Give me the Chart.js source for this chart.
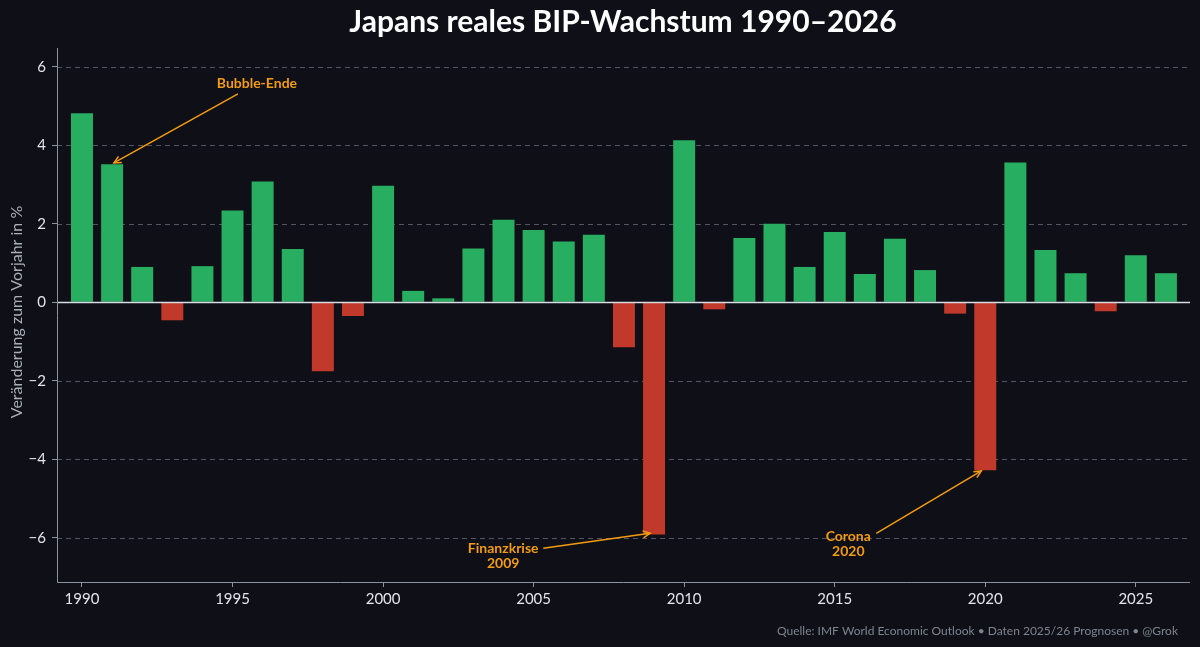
<!DOCTYPE html>
<html><head><meta charset="utf-8">
<script src="https://cdn.jsdelivr.net/npm/chart.js@4"></script>
<style>
html,body{margin:0;padding:0;background:#0e0f17;}
#wrap{width:1200px;height:647px;position:relative;}
</style></head>
<body><div id="wrap"><canvas id="c" width="1200" height="647"></canvas></div>
<script>
const years = [1990,1991,1992,1993,1994,1995,1996,1997,1998,1999,2000,2001,2002,2003,2004,2005,2006,2007,2008,2009,2010,2011,2012,2013,2014,2015,2016,2017,2018,2019,2020,2021,2022,2023,2024,2025,2026];
const growth = [4.82,3.52,0.90,-0.46,0.92,2.34,3.08,1.36,-1.76,-0.35,2.97,0.29,0.10,1.37,2.10,1.84,1.55,1.72,-1.15,-5.92,4.13,-0.18,1.64,2.00,0.90,1.79,0.72,1.62,0.82,-0.29,-4.28,3.56,1.33,0.74,-0.23,1.20,0.74];
const xTicks = [1990,1995,2000,2005,2010,2015,2020,2025];
const yTicks = [-6,-4,-2,0,2,4,6];
const annoLabels = [["Bubble-Ende"],["Finanzkrise","2009"],["Corona","2020"]];
const annoText = [[1995.81,5.57],[2003.99,-6.46],[2015.45,-6.15]];
const annoTail = [[1995.18,5.31],[2005.32,-6.27],[2016.38,-5.89]];
const annoTip = [[1991.06,3.55],[2008.87,-5.89],[2019.87,-4.30]];
const titleText = "Japans reales BIP-Wachstum 1990–2026";
const yTitle = "Veränderung zum Vorjahr in %";
const footer = "Quelle: IMF World Economic Outlook • Daten 2025/26 Prognosen • @Grok";

const FONT = "Lato, 'Source Sans Pro', sans-serif";
const GREEN = "#27ae60", RED = "#c0392b", ORANGE = "#f39c12";

const deco = {
  id:'deco',
  beforeDraw(chart){
    const ctx = chart.ctx;
    ctx.save();
    ctx.fillStyle = '#0e0f17';
    ctx.fillRect(0,0,chart.width,chart.height);
    ctx.restore();
  },
  beforeDatasetsDraw(chart){
    const {ctx, chartArea:a, scales:{x,y}} = chart;
    ctx.save();
    ctx.strokeStyle = 'rgba(140,145,160,0.55)';
    ctx.lineWidth = 1;
    ctx.setLineDash([5,4]);
    yTicks.forEach(v=>{
      if(v===0) return;
      const py = Math.round(y.getPixelForValue(v))+0.5;
      ctx.beginPath(); ctx.moveTo(a.left,py); ctx.lineTo(a.right,py); ctx.stroke();
    });
    ctx.restore();
  },
  afterDatasetsDraw(chart){
    const {ctx, chartArea:a, scales:{x,y}} = chart;
    ctx.save();
    const z = Math.round(y.getPixelForValue(0))+0.5;
    ctx.strokeStyle = '#d8dce3'; ctx.lineWidth = 1.3;
    ctx.beginPath(); ctx.moveTo(a.left,z); ctx.lineTo(a.right,z); ctx.stroke();
    ctx.strokeStyle = '#8793a0'; ctx.lineWidth = 1;
    ctx.beginPath();
    ctx.moveTo(a.left+0.5,a.top); ctx.lineTo(a.left+0.5,a.bottom+0.5); ctx.lineTo(a.right,a.bottom+0.5);
    ctx.stroke();
    ctx.fillStyle = ORANGE; ctx.strokeStyle = ORANGE; ctx.lineWidth = 1.5;
    ctx.font = "bold 14px " + FONT;
    ctx.textAlign = 'center'; ctx.textBaseline = 'middle';
    annoLabels.forEach((lines,i)=>{
      const tx = x.getPixelForValue(annoText[i][0]), ty = y.getPixelForValue(annoText[i][1]);
      const n = lines.length;
      lines.forEach((l,j)=>ctx.fillText(l, tx, ty + (j-(n-1)/2)*15));
      const x1 = x.getPixelForValue(annoTail[i][0]), y1 = y.getPixelForValue(annoTail[i][1]);
      const x2 = x.getPixelForValue(annoTip[i][0]), y2 = y.getPixelForValue(annoTip[i][1]);
      ctx.beginPath(); ctx.moveTo(x1,y1); ctx.lineTo(x2,y2); ctx.stroke();
      const ang = Math.atan2(y2-y1,x2-x1), L = 8, w = 0.45;
      ctx.beginPath();
      ctx.moveTo(x2 - L*Math.cos(ang-w), y2 - L*Math.sin(ang-w));
      ctx.lineTo(x2,y2);
      ctx.lineTo(x2 - L*Math.cos(ang+w), y2 - L*Math.sin(ang+w));
      ctx.stroke();
    });
    ctx.restore();
  },
  afterDraw(chart){
    const ctx = chart.ctx;
    ctx.save();
    ctx.fillStyle = '#ffffff';
    ctx.font = "bold 30px " + FONT;
    ctx.textAlign='center'; ctx.textBaseline='middle';
    ctx.fillText(titleText, 623, 22);
    ctx.fillStyle = '#a9afb8';
    ctx.font = "16px " + FONT;
    ctx.translate(17, 312); ctx.rotate(-Math.PI/2);
    ctx.fillText(yTitle, 0, 0);
    ctx.restore();
    ctx.save();
    ctx.fillStyle = '#7d8590';
    ctx.font = "12px " + FONT;
    ctx.textAlign='right'; ctx.textBaseline='middle';
    ctx.fillText(footer, 1178, 631);
    ctx.restore();
  }
};

new Chart(document.getElementById('c'), {
  type:'bar',
  data:{
    datasets:[{
      data: years.map((yr,i)=>({x:yr, y:growth[i]})),
      backgroundColor: growth.map(v=> v>=0 ? GREEN : RED),
      borderWidth:0,
      barPercentage:0.73,
      categoryPercentage:1.0
    }]
  },
  options:{
    responsive:false,
    animation:false,
    devicePixelRatio:1,
    layout:{padding:{left:0,right:10,top:48,bottom:0}},
    plugins:{legend:{display:false},tooltip:{enabled:false},title:{display:false}},
    scales:{
      x:{
        type:'linear', min:1989.17, max:2026.8, offset:false,
        afterBuildTicks(s){ s.ticks = xTicks.map(v=>({value:v})); },
        afterFit(s){ s.height = 65; },
        grid:{display:true, offset:false, drawOnChartArea:false, tickLength:5, color:'#8793a0', tickColor:'#8793a0'},
        border:{display:false},
        ticks:{color:'#e2e5ea', font:{family:FONT,size:15}, padding:3, callback:v=>String(v), maxRotation:0, autoSkip:false}
      },
      y:{
        min:-7.13, max:6.48,
        afterBuildTicks(s){ s.ticks = yTicks.map(v=>({value:v})); },
        afterFit(s){ s.width = 57; },
        grid:{display:true, drawOnChartArea:false, tickLength:5, color:'#8793a0', tickColor:'#8793a0'},
        border:{display:false},
        ticks:{color:'#e2e5ea', font:{family:FONT,size:15}, padding:6, callback:v=> v<0 ? '−'+Math.abs(v) : String(v)}
      }
    }
  },
  plugins:[deco]
});
</script></body></html>
